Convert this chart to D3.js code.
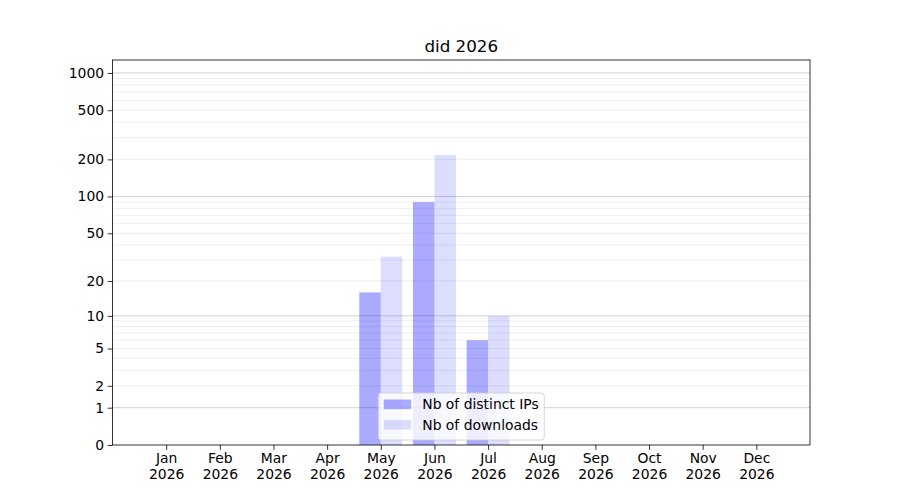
<!DOCTYPE html>
<html><head><meta charset="utf-8">
<script src="https://cdn.jsdelivr.net/npm/d3@7"></script>
<style>body{margin:0;background:#fff;} text{font-family:"DejaVu Sans",sans-serif;}</style>
</head><body>
<svg id="c" width="900" height="500"></svg>
<script>
const months = ["Jan","Feb","Mar","Apr","May","Jun","Jul","Aug","Sep","Oct","Nov","Dec"];
const year = "2026";
const title = "did 2026";
const distinctIPs = [0,0,0,0,16,90,6,0,0,0,0,0];
const downloads   = [0,0,0,0,32,217,10,0,0,0,0,0];
const yTickValues = [0,1,2,5,10,20,50,100,200,500,1000];
const yMajorGrid = [1,10,100,1000];
const yMinorGrid = [2,3,4,5,6,7,8,9,20,30,40,50,60,70,80,90,200,300,400,500,600,700,800,900];
const seriesNames = ["Nb of distinct IPs","Nb of downloads"];
const yMax = 1272;

const svg = d3.select("#c");
const L=112.5,R=810,T=60,B=445;
const x = d3.scaleLinear().domain([-1,12]).range([L,R]);
const y = d3.scaleLog().domain([1, yMax+1]).range([B,T]);
const yv = v => y(v+1);

// grid
const g = svg.append("g");
g.selectAll("line.minor").data(yMinorGrid).join("line")
  .attr("x1",L).attr("x2",R).attr("y1",d=>yv(d)).attr("y2",d=>yv(d))
  .attr("stroke","#ebebeb").attr("stroke-width",0.8);
g.selectAll("line.major").data(yMajorGrid).join("line")
  .attr("x1",L).attr("x2",R).attr("y1",d=>yv(d)).attr("y2",d=>yv(d))
  .attr("stroke","#c8c8c8").attr("stroke-width",0.8);

// bars
const bw = 0.4;
svg.append("g").selectAll("rect").data(distinctIPs).join("rect")
  .attr("x",(d,i)=>x(i-bw)).attr("width",x(bw)-x(0))
  .attr("y",d=>yv(d)).attr("height",d=>B-yv(d))
  .attr("fill","#0000ff").attr("fill-opacity",0.333);
svg.append("g").selectAll("rect").data(downloads).join("rect")
  .attr("x",(d,i)=>x(i)).attr("width",x(bw)-x(0))
  .attr("y",d=>yv(d)).attr("height",d=>B-yv(d))
  .attr("fill","#0000ff").attr("fill-opacity",0.135);

// axes
const yAxis = d3.axisLeft(y).tickValues(yTickValues.map(v=>v+1)).tickFormat(d=>d3.format("d")(Math.round(d-1))).tickSizeInner(4.9).tickSizeOuter(0).tickPadding(3.5);
const ya = svg.append("g").attr("transform",`translate(${L},0)`).call(yAxis);
ya.selectAll("text").attr("font-size","13.9px").attr("fill","#000");
ya.selectAll("line").attr("stroke","#000").attr("stroke-width",0.8);
ya.select(".domain").remove();

const xAxis = d3.axisBottom(x).tickValues(d3.range(12)).tickFormat(i=>months[i]).tickSizeInner(4.9).tickSizeOuter(0).tickPadding(3.5);
const xa = svg.append("g").attr("transform",`translate(0,${B})`).call(xAxis);
xa.select(".domain").remove();
xa.selectAll("line").attr("stroke","#000").attr("stroke-width",0.8);
xa.selectAll("text").attr("font-size","13.9px").attr("fill","#000").each(function(i){
  const t=d3.select(this); t.text(null);
  t.append("tspan").attr("x",0).attr("dy","0.71em").text(months[i]);
  t.append("tspan").attr("x",0).attr("dy","1.15em").text(year);
});

// frame
svg.append("rect").attr("x",L).attr("y",T).attr("width",R-L).attr("height",B-T)
  .attr("fill","none").attr("stroke","#000").attr("stroke-width",0.8);

// title
svg.append("text").attr("x",(L+R)/2).attr("y",T-8).attr("text-anchor","middle")
  .attr("font-size","16.7px").attr("fill","#000").text(title);

// legend
const lw=166, lh=47;
const lx=(L+R)/2-lw/2, ly=B-5-lh;
const lg = svg.append("g").attr("transform",`translate(${lx},${ly})`);
lg.append("rect").attr("width",lw).attr("height",lh).attr("rx",3)
  .attr("fill","#fff").attr("fill-opacity",0.8).attr("stroke","#cccccc").attr("stroke-width",0.8);
const ops=[0.333,0.135];
seriesNames.forEach((n,k)=>{
  lg.append("rect").attr("x",5.5).attr("y",6.5+k*20.5).attr("width",27.5).attr("height",9.7)
    .attr("fill","#0000ff").attr("fill-opacity",ops[k]);
  lg.append("text").attr("x",44).attr("y",11.4+k*20.5).attr("dy","0.35em")
    .attr("font-size","13.9px").attr("fill","#000").text(n);
});
</script>
</body></html>
